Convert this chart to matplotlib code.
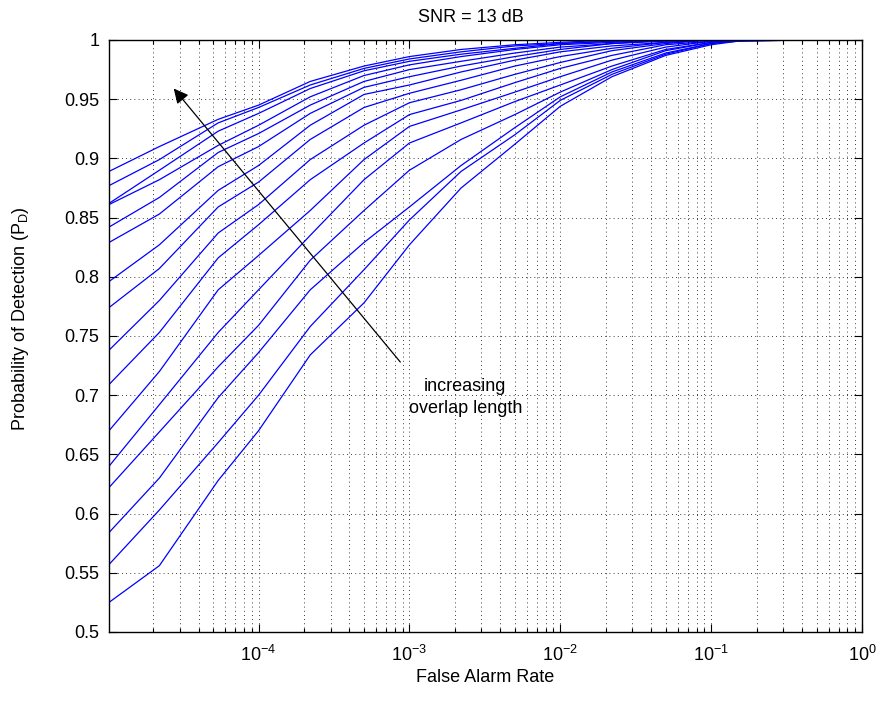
import matplotlib
matplotlib.use("Agg")
import matplotlib.pyplot as plt
from matplotlib.ticker import LogLocator, FixedLocator, NullFormatter
import numpy as np

plt.rcParams['font.family'] = ['Liberation Sans', 'DejaVu Sans']
plt.rcParams['mathtext.fontset'] = 'custom'
plt.rcParams['mathtext.rm'] = 'Liberation Sans'
plt.rcParams['mathtext.it'] = 'Liberation Sans:italic'
plt.rcParams['mathtext.bf'] = 'Liberation Sans:bold'

# false alarm rate grid shared by all curves
pfa = [1.02e-5, 2.2e-5, 5.4e-5, 1e-4, 2.2e-4, 5e-4, 1e-3, 2.2e-3, 5e-3,
       1e-2, 2.2e-2, 5e-2, 1e-1, 1.5e-1, 4e-1]

# probability of detection, one list per overlap length (longest first)
pd01 = [0.889, 0.910, 0.933, 0.945, 0.965, 0.978, 0.986, 0.992, 0.996, 0.998, 1, 1, 1, 1, 1]
pd02 = [0.877, 0.899, 0.930, 0.943, 0.962, 0.976, 0.984, 0.990, 0.995, 0.997, 0.999, 1, 1, 1, 1]
pd03 = [0.862, 0.890, 0.923, 0.938, 0.959, 0.974, 0.982, 0.988, 0.993, 0.997, 0.999, 1, 1, 1, 1]
pd04 = [0.861, 0.882, 0.911, 0.928, 0.952, 0.970, 0.979, 0.986, 0.992, 0.996, 0.998, 1, 1, 1, 1]
pd05 = [0.842, 0.867, 0.905, 0.921, 0.945, 0.965, 0.975, 0.982, 0.989, 0.994, 0.997, 1, 1, 1, 1]
pd06 = [0.829, 0.853, 0.893, 0.910, 0.938, 0.960, 0.969, 0.978, 0.986, 0.992, 0.997, 0.999, 1, 1, 1]
pd07 = [0.796, 0.827, 0.873, 0.894, 0.928, 0.954, 0.962, 0.973, 0.983, 0.990, 0.995, 0.998, 1, 1, 1]
pd08 = [0.774, 0.807, 0.859, 0.880, 0.916, 0.943, 0.955, 0.966, 0.978, 0.986, 0.993, 0.998, 1, 1, 1]
pd09 = [0.738, 0.780, 0.837, 0.861, 0.899, 0.928, 0.947, 0.958, 0.971, 0.981, 0.991, 0.997, 1, 1, 1]
pd10 = [0.709, 0.753, 0.816, 0.844, 0.882, 0.913, 0.937, 0.949, 0.964, 0.976, 0.987, 0.996, 0.999, 1, 1]
pd11 = [0.670, 0.720, 0.789, 0.818, 0.856, 0.899, 0.927, 0.941, 0.956, 0.969, 0.983, 0.994, 0.999, 1, 1]
pd12 = [0.640, 0.692, 0.753, 0.789, 0.835, 0.882, 0.913, 0.930, 0.948, 0.962, 0.978, 0.992, 0.998, 1, 1]
pd13 = [0.622, 0.669, 0.724, 0.759, 0.814, 0.856, 0.890, 0.916, 0.937, 0.956, 0.975, 0.991, 0.998, 1, 1]
pd14 = [0.584, 0.630, 0.698, 0.736, 0.789, 0.829, 0.859, 0.894, 0.926, 0.952, 0.973, 0.989, 0.997, 1, 1]
pd15 = [0.557, 0.603, 0.660, 0.700, 0.758, 0.806, 0.848, 0.889, 0.920, 0.949, 0.971, 0.988, 0.997, 0.999, 1]
pd16 = [0.525, 0.556, 0.628, 0.670, 0.734, 0.778, 0.827, 0.875, 0.912, 0.944, 0.969, 0.987, 0.996, 0.999, 1]

curves = [pd01, pd02, pd03, pd04, pd05, pd06, pd07, pd08,
          pd09, pd10, pd11, pd12, pd13, pd14, pd15, pd16]

yticks = [0.5, 0.55, 0.6, 0.65, 0.7, 0.75, 0.8, 0.85, 0.9, 0.95, 1]
ytick_labels = ['0.5', '0.55', '0.6', '0.65', '0.7', '0.75', '0.8', '0.85', '0.9', '0.95', '1']

fig = plt.figure(figsize=(8.84, 7.06), dpi=100)
ax = fig.add_axes([109 / 884, 1 - 632 / 706, 753 / 884, 592 / 706])

for pd in curves:
    ax.semilogx(pfa, pd, color=(0, 0, 1), lw=0.9)

ax.set_xlim(1.02e-5, 1)
ax.set_ylim(0.5, 1)
ax.xaxis.set_major_locator(LogLocator(base=10, numticks=10))
ax.xaxis.set_minor_locator(LogLocator(base=10, subs=np.arange(2, 10), numticks=10))
ax.xaxis.set_minor_formatter(NullFormatter())
ax.yaxis.set_major_locator(FixedLocator(yticks))
ax.set_yticklabels(ytick_labels)

ax.tick_params(which='both', direction='in', top=True, right=True, labelsize=13, width=0.8)
ax.tick_params(which='major', length=6)
ax.tick_params(which='minor', length=3)
ax.tick_params(axis='x', which='major', pad=9)
ax.tick_params(axis='y', which='major', pad=7)

ax.grid(True, which='major', color='black', linestyle=(0, (1, 4)), lw=0.6)
ax.grid(True, which='minor', axis='x', color='black', linestyle=(0, (1, 4)), lw=0.6)
for s in ax.spines.values():
    s.set_linewidth(1.0)

ax.set_xlabel('False Alarm Rate', fontsize=13, labelpad=3)
ax.set_ylabel(r'Probability of Detection (P$_\mathrm{D}$)', fontsize=13)
ax.yaxis.set_label_coords(-0.104, 0.53)
ax.set_title('SNR = 13 dB', fontsize=13, x=0.48, pad=13)

ax.annotate('', xy=(2.74e-5, 0.959), xytext=(8.7e-4, 0.728),
            arrowprops=dict(arrowstyle='-|>', color='black', lw=0.9,
                            mutation_scale=22, shrinkA=0, shrinkB=0))
ax.text(2.35e-3, 0.698, 'increasing\noverlap length', fontsize=13,
        ha='center', va='center', linespacing=1.35)

fig.savefig('out.png', dpi=100)
